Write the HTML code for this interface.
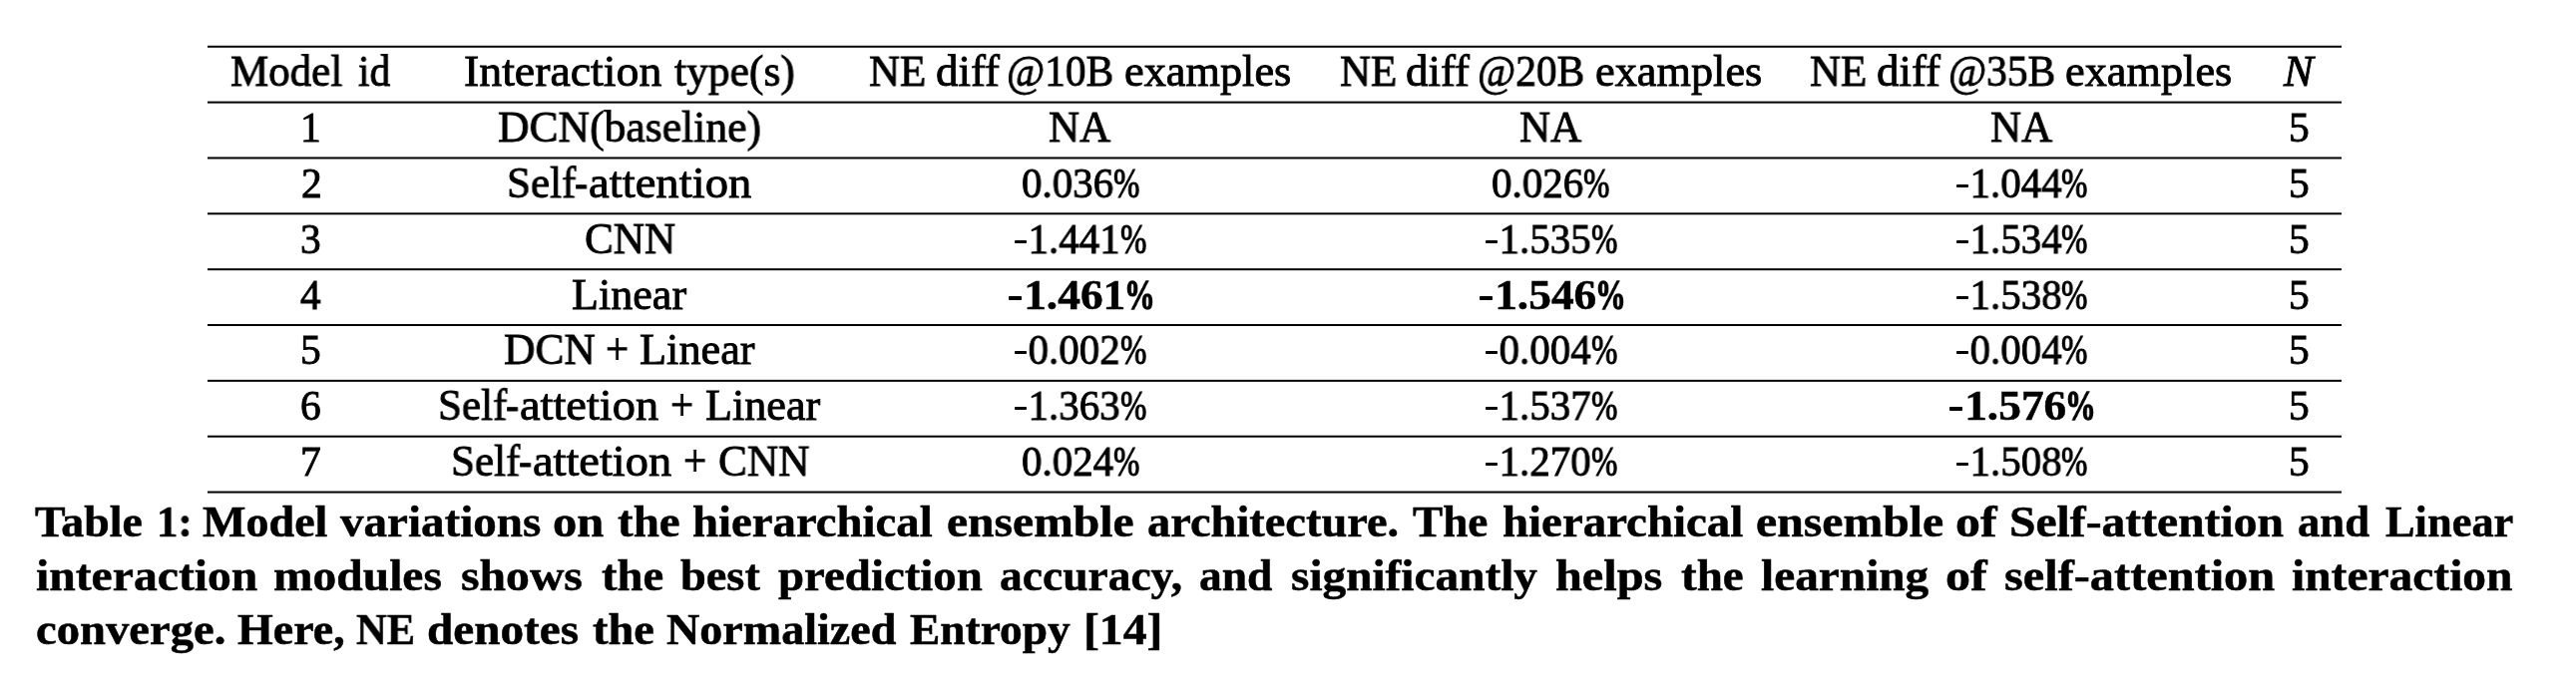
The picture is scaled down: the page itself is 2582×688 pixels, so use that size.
<!DOCTYPE html>
<html><head><meta charset="utf-8"><title>Table 1</title><style>
html,body{margin:0;padding:0;background:#fff;}
body{width:2582px;height:688px;position:relative;overflow:hidden;font-family:"Liberation Serif",serif;color:#000;}
.t{position:absolute;white-space:pre;font-size:44.0px;line-height:60px;height:60px;transform-origin:0 0;will-change:transform;-webkit-text-stroke:0.85px #000;}
.b{font-weight:bold;-webkit-text-stroke:0.5px #000;}
.i{font-style:italic;}
.p{-webkit-text-stroke:1.2px #000;}
.pb{-webkit-text-stroke:1.3px #000;}
.h{color:transparent;-webkit-text-stroke:0 transparent;}
.hy{position:absolute;background:#000;border-radius:0.8px;}
.hl{position:absolute;left:208px;width:2139px;height:1px;background:#000;}
</style></head><body>
<div class="hl" style="top:45px;background:rgb(194,194,194)"></div>
<div class="hl" style="top:46px;background:rgb(0,0,0)"></div>
<div class="hl" style="top:47px;background:rgb(61,61,61)"></div>
<div class="hl" style="top:101px;background:rgb(156,156,156)"></div>
<div class="hl" style="top:102px;background:rgb(0,0,0)"></div>
<div class="hl" style="top:103px;background:rgb(99,99,99)"></div>
<div class="hl" style="top:157px;background:rgb(117,117,117)"></div>
<div class="hl" style="top:158px;background:rgb(0,0,0)"></div>
<div class="hl" style="top:159px;background:rgb(138,138,138)"></div>
<div class="hl" style="top:213px;background:rgb(79,79,79)"></div>
<div class="hl" style="top:214px;background:rgb(0,0,0)"></div>
<div class="hl" style="top:215px;background:rgb(176,176,176)"></div>
<div class="hl" style="top:269px;background:rgb(41,41,41)"></div>
<div class="hl" style="top:270px;background:rgb(0,0,0)"></div>
<div class="hl" style="top:271px;background:rgb(214,214,214)"></div>
<div class="hl" style="top:325px;background:rgb(3,3,3)"></div>
<div class="hl" style="top:326px;background:rgb(0,0,0)"></div>
<div class="hl" style="top:380px;background:rgb(219,219,219)"></div>
<div class="hl" style="top:381px;background:rgb(0,0,0)"></div>
<div class="hl" style="top:382px;background:rgb(36,36,36)"></div>
<div class="hl" style="top:436px;background:rgb(181,181,181)"></div>
<div class="hl" style="top:437px;background:rgb(0,0,0)"></div>
<div class="hl" style="top:438px;background:rgb(74,74,74)"></div>
<div class="hl" style="top:492px;background:rgb(143,143,143)"></div>
<div class="hl" style="top:493px;background:rgb(0,0,0)"></div>
<div class="hl" style="top:494px;background:rgb(112,112,112)"></div>
<div class="t" style="left:231.42px;top:42.00px;transform:scaleX(0.9772)">Model</div>
<div class="t" style="left:358.50px;top:42.00px;transform:scaleX(0.9412)">id</div>
<div class="t" style="left:464.76px;top:42.00px;transform:scaleX(1.0407)">Interaction</div>
<div class="t" style="left:675.70px;top:42.00px;transform:scaleX(0.9884)">type(s)</div>
<div class="t" style="left:871.02px;top:42.00px;transform:scaleX(0.9750)">NE</div>
<div class="t" style="left:937.88px;top:42.00px;transform:scaleX(1.0194)">diff</div>
<div class="t" style="left:1009.32px;top:42.00px;transform:scaleX(0.9418)">@10B</div>
<div class="t" style="left:1127.19px;top:42.00px;transform:scaleX(1.0067)">examples</div>
<div class="t" style="left:1342.62px;top:42.00px;transform:scaleX(0.9750)">NE</div>
<div class="t" style="left:1409.48px;top:42.00px;transform:scaleX(1.0194)">diff</div>
<div class="t" style="left:1480.92px;top:42.00px;transform:scaleX(0.9418)">@20B</div>
<div class="t" style="left:1598.79px;top:42.00px;transform:scaleX(1.0067)">examples</div>
<div class="t" style="left:1814.33px;top:42.00px;transform:scaleX(0.9750)">NE</div>
<div class="t" style="left:1881.18px;top:42.00px;transform:scaleX(1.0194)">diff</div>
<div class="t" style="left:1952.62px;top:42.00px;transform:scaleX(0.9418)">@35B</div>
<div class="t" style="left:2070.49px;top:42.00px;transform:scaleX(1.0067)">examples</div>
<div class="t i" style="left:2288.91px;top:42.00px;transform:scaleX(1.0121)">N</div>
<div class="t" style="left:300.67px;top:98.00px;font-size:41.5px;transform:scaleX(0.9850)">1</div>
<div class="t" style="left:499.11px;top:98.00px;transform:scaleX(0.9909)">DCN(baseline)</div>
<div class="t" style="left:1051.22px;top:98.00px;transform:scaleX(0.9778)">NA</div>
<div class="t" style="left:1522.92px;top:98.00px;transform:scaleX(0.9778)">NA</div>
<div class="t" style="left:1994.62px;top:98.00px;transform:scaleX(0.9778)">NA</div>
<div class="t" style="left:2293.76px;top:98.00px;font-size:41.5px;transform:scaleX(0.9850)">5</div>
<div class="t" style="left:301.65px;top:154.00px;font-size:41.5px;transform:scaleX(0.9850)">2</div>
<div class="t" style="left:507.54px;top:154.00px;transform:scaleX(0.9783)">Self</div>
<div class="t" style="left:575.61px;top:154.00px;transform:scaleX(0.8923)">-</div>
<div class="t" style="left:589.84px;top:154.00px;transform:scaleX(1.0608)">attention</div>
<div class="t" style="left:1023.51px;top:154.00px;font-size:41.5px;transform:scaleX(0.9850)">0.036</div>
<div class="t p" style="left:1115.54px;top:154.00px;font-size:41.5px;transform:scaleX(0.7636)">%</div>
<div class="t" style="left:1495.22px;top:154.00px;font-size:41.5px;transform:scaleX(0.9850)">0.026</div>
<div class="t p" style="left:1587.24px;top:154.00px;font-size:41.5px;transform:scaleX(0.7636)">%</div>
<div class="t" style="left:1960.72px;top:154.00px;font-size:41.5px;transform:scaleX(0.9850)"><span class="h">-</span>1.044</div>
<div class="t p" style="left:2066.34px;top:154.00px;font-size:41.5px;transform:scaleX(0.7636)">%</div>
<div class="t" style="left:2293.76px;top:154.00px;font-size:41.5px;transform:scaleX(0.9850)">5</div>
<div class="t" style="left:301.16px;top:210.00px;font-size:41.5px;transform:scaleX(0.9850)">3</div>
<div class="t" style="left:586.32px;top:210.00px;transform:scaleX(0.9824)">CNN</div>
<div class="t" style="left:1017.32px;top:210.00px;font-size:41.5px;transform:scaleX(0.9850)"><span class="h">-</span>1.441</div>
<div class="t p" style="left:1122.94px;top:210.00px;font-size:41.5px;transform:scaleX(0.7636)">%</div>
<div class="t" style="left:1489.02px;top:210.00px;font-size:41.5px;transform:scaleX(0.9850)"><span class="h">-</span>1.535</div>
<div class="t p" style="left:1594.64px;top:210.00px;font-size:41.5px;transform:scaleX(0.7636)">%</div>
<div class="t" style="left:1960.72px;top:210.00px;font-size:41.5px;transform:scaleX(0.9850)"><span class="h">-</span>1.534</div>
<div class="t p" style="left:2066.34px;top:210.00px;font-size:41.5px;transform:scaleX(0.7636)">%</div>
<div class="t" style="left:2293.76px;top:210.00px;font-size:41.5px;transform:scaleX(0.9850)">5</div>
<div class="t" style="left:301.16px;top:266.00px;font-size:41.5px;transform:scaleX(0.9850)">4</div>
<div class="t" style="left:573.20px;top:266.00px;transform:scaleX(1.0026)">Linear</div>
<div class="t b" style="left:1010.81px;top:266.00px;font-size:41.5px;transform:scaleX(1.0940)"><span class="h">-</span>1.461</div>
<div class="t b pb" style="left:1126.94px;top:266.00px;font-size:41.5px;transform:scaleX(0.7412)">%</div>
<div class="t b" style="left:1482.51px;top:266.00px;font-size:41.5px;transform:scaleX(1.0940)"><span class="h">-</span>1.546</div>
<div class="t b pb" style="left:1598.64px;top:266.00px;font-size:41.5px;transform:scaleX(0.7412)">%</div>
<div class="t" style="left:1960.72px;top:266.00px;font-size:41.5px;transform:scaleX(0.9850)"><span class="h">-</span>1.538</div>
<div class="t p" style="left:2066.34px;top:266.00px;font-size:41.5px;transform:scaleX(0.7636)">%</div>
<div class="t" style="left:2293.76px;top:266.00px;font-size:41.5px;transform:scaleX(0.9850)">5</div>
<div class="t" style="left:300.67px;top:321.00px;font-size:41.5px;transform:scaleX(0.9850)">5</div>
<div class="t" style="left:504.91px;top:321.00px;transform:scaleX(0.9890)">DCN</div>
<div class="t" style="left:607.23px;top:321.00px;transform:scaleX(0.9333)">+</div>
<div class="t" style="left:640.99px;top:321.00px;transform:scaleX(1.0070)">Linear</div>
<div class="t" style="left:1017.32px;top:321.00px;font-size:41.5px;transform:scaleX(0.9850)"><span class="h">-</span>0.002</div>
<div class="t p" style="left:1122.94px;top:321.00px;font-size:41.5px;transform:scaleX(0.7636)">%</div>
<div class="t" style="left:1489.02px;top:321.00px;font-size:41.5px;transform:scaleX(0.9850)"><span class="h">-</span>0.004</div>
<div class="t p" style="left:1594.64px;top:321.00px;font-size:41.5px;transform:scaleX(0.7636)">%</div>
<div class="t" style="left:1960.72px;top:321.00px;font-size:41.5px;transform:scaleX(0.9850)"><span class="h">-</span>0.004</div>
<div class="t p" style="left:2066.34px;top:321.00px;font-size:41.5px;transform:scaleX(0.7636)">%</div>
<div class="t" style="left:2293.76px;top:321.00px;font-size:41.5px;transform:scaleX(0.9850)">5</div>
<div class="t" style="left:301.16px;top:377.00px;font-size:41.5px;transform:scaleX(0.9850)">6</div>
<div class="t" style="left:438.54px;top:377.00px;transform:scaleX(0.9783)">Self</div>
<div class="t" style="left:506.61px;top:377.00px;transform:scaleX(0.8923)">-</div>
<div class="t" style="left:520.85px;top:377.00px;transform:scaleX(1.0542)">attetion</div>
<div class="t" style="left:672.13px;top:377.00px;transform:scaleX(0.9333)">+</div>
<div class="t" style="left:706.80px;top:377.00px;transform:scaleX(1.0044)">Linear</div>
<div class="t" style="left:1017.32px;top:377.00px;font-size:41.5px;transform:scaleX(0.9850)"><span class="h">-</span>1.363</div>
<div class="t p" style="left:1122.94px;top:377.00px;font-size:41.5px;transform:scaleX(0.7636)">%</div>
<div class="t" style="left:1489.02px;top:377.00px;font-size:41.5px;transform:scaleX(0.9850)"><span class="h">-</span>1.537</div>
<div class="t p" style="left:1594.64px;top:377.00px;font-size:41.5px;transform:scaleX(0.7636)">%</div>
<div class="t b" style="left:1954.21px;top:377.00px;font-size:41.5px;transform:scaleX(1.0940)"><span class="h">-</span>1.576</div>
<div class="t b pb" style="left:2070.34px;top:377.00px;font-size:41.5px;transform:scaleX(0.7412)">%</div>
<div class="t" style="left:2293.76px;top:377.00px;font-size:41.5px;transform:scaleX(0.9850)">5</div>
<div class="t" style="left:300.67px;top:433.00px;font-size:41.5px;transform:scaleX(0.9850)">7</div>
<div class="t" style="left:451.64px;top:433.00px;transform:scaleX(0.9783)">Self</div>
<div class="t" style="left:519.71px;top:433.00px;transform:scaleX(0.8923)">-</div>
<div class="t" style="left:533.95px;top:433.00px;transform:scaleX(1.0542)">attetion</div>
<div class="t" style="left:685.42px;top:433.00px;transform:scaleX(0.9381)">+</div>
<div class="t" style="left:719.61px;top:433.00px;transform:scaleX(0.9857)">CNN</div>
<div class="t" style="left:1023.51px;top:433.00px;font-size:41.5px;transform:scaleX(0.9850)">0.024</div>
<div class="t p" style="left:1115.54px;top:433.00px;font-size:41.5px;transform:scaleX(0.7636)">%</div>
<div class="t" style="left:1489.02px;top:433.00px;font-size:41.5px;transform:scaleX(0.9850)"><span class="h">-</span>1.270</div>
<div class="t p" style="left:1594.64px;top:433.00px;font-size:41.5px;transform:scaleX(0.7636)">%</div>
<div class="t" style="left:1960.72px;top:433.00px;font-size:41.5px;transform:scaleX(0.9850)"><span class="h">-</span>1.508</div>
<div class="t p" style="left:2066.34px;top:433.00px;font-size:41.5px;transform:scaleX(0.7636)">%</div>
<div class="t" style="left:2293.76px;top:433.00px;font-size:41.5px;transform:scaleX(0.9850)">5</div>
<div class="t b" style="left:35.40px;top:494.00px;transform:scaleX(1.0417)">Table</div>
<div class="t b" style="left:157.07px;top:494.00px;transform:scaleX(0.9767)">1:</div>
<div class="t b" style="left:202.70px;top:494.00px;transform:scaleX(1.0471)">Model</div>
<div class="t b" style="left:340.50px;top:494.00px;transform:scaleX(1.0690)">variations</div>
<div class="t b" style="left:553.60px;top:494.00px;transform:scaleX(1.1022)">on</div>
<div class="t b" style="left:619.10px;top:494.00px;transform:scaleX(1.0690)">the</div>
<div class="t b" style="left:694.14px;top:494.00px;transform:scaleX(1.0631)">hierarchical</div>
<div class="t b" style="left:948.92px;top:494.00px;transform:scaleX(1.0814)">ensemble</div>
<div class="t b" style="left:1150.34px;top:494.00px;transform:scaleX(1.0551)">architecture.</div>
<div class="t b" style="left:1415.80px;top:494.00px;transform:scaleX(1.0288)">The</div>
<div class="t b" style="left:1505.83px;top:494.00px;transform:scaleX(1.0653)">hierarchical</div>
<div class="t b" style="left:1759.62px;top:494.00px;transform:scaleX(1.0849)">ensemble</div>
<div class="t b" style="left:1959.86px;top:494.00px;transform:scaleX(1.1351)">of</div>
<div class="t b" style="left:2013.84px;top:494.00px;transform:scaleX(1.0817)">Self-attention</div>
<div class="t b" style="left:2303.28px;top:494.00px;transform:scaleX(1.0157)">and</div>
<div class="t b" style="left:2390.80px;top:494.00px;transform:scaleX(1.0094)">Linear</div>
<div class="t b" style="left:35.82px;top:548.00px;transform:scaleX(1.0833)">interaction</div>
<div class="t b" style="left:274.22px;top:548.00px;transform:scaleX(1.0794)">modules</div>
<div class="t b" style="left:461.82px;top:548.00px;transform:scaleX(1.0838)">shows</div>
<div class="t b" style="left:603.00px;top:548.00px;transform:scaleX(1.0603)">the</div>
<div class="t b" style="left:682.30px;top:548.00px;transform:scaleX(1.0539)">best</div>
<div class="t b" style="left:780.20px;top:548.00px;transform:scaleX(1.0651)">prediction</div>
<div class="t b" style="left:1002.27px;top:548.00px;transform:scaleX(1.0343)">accuracy,</div>
<div class="t b" style="left:1202.37px;top:548.00px;transform:scaleX(1.0343)">and</div>
<div class="t b" style="left:1293.53px;top:548.00px;transform:scaleX(1.0747)">significantly</div>
<div class="t b" style="left:1559.10px;top:548.00px;transform:scaleX(1.0979)">helps</div>
<div class="t b" style="left:1684.60px;top:548.00px;transform:scaleX(1.0690)">the</div>
<div class="t b" style="left:1764.70px;top:548.00px;transform:scaleX(1.0756)">learning</div>
<div class="t b" style="left:1949.96px;top:548.00px;transform:scaleX(1.1378)">of</div>
<div class="t b" style="left:2008.50px;top:548.00px;transform:scaleX(1.0984)">self-attention</div>
<div class="t b" style="left:2297.02px;top:548.00px;transform:scaleX(1.0789)">interaction</div>
<div class="t b" style="left:35.84px;top:602.00px;transform:scaleX(1.0599)">converge.</div>
<div class="t b" style="left:238.10px;top:602.00px;transform:scaleX(1.0451)">Here,</div>
<div class="t b" style="left:357.10px;top:602.00px;transform:scaleX(0.9661)">NE</div>
<div class="t b" style="left:427.83px;top:602.00px;transform:scaleX(1.0721)">denotes</div>
<div class="t b" style="left:593.90px;top:602.00px;transform:scaleX(1.0552)">the</div>
<div class="t b" style="left:668.20px;top:602.00px;transform:scaleX(1.0477)">Normalized</div>
<div class="t b" style="left:912.30px;top:602.00px;transform:scaleX(1.0321)">Entropy</div>
<div class="t b" style="left:1085.65px;top:602.00px;transform:scaleX(1.0824)">[14]</div>
<div class="hy" style="left:1960.50px;top:185px;width:12.00px;height:3px"></div>
<div class="hy" style="left:1017.10px;top:241px;width:12.00px;height:3px"></div>
<div class="hy" style="left:1488.80px;top:241px;width:12.00px;height:3px"></div>
<div class="hy" style="left:1960.50px;top:241px;width:12.00px;height:3px"></div>
<div class="hy" style="left:1011.00px;top:297px;width:13.00px;height:4px"></div>
<div class="hy" style="left:1482.70px;top:297px;width:13.00px;height:4px"></div>
<div class="hy" style="left:1960.50px;top:297px;width:12.00px;height:3px"></div>
<div class="hy" style="left:1017.10px;top:352px;width:12.00px;height:3px"></div>
<div class="hy" style="left:1488.80px;top:352px;width:12.00px;height:3px"></div>
<div class="hy" style="left:1960.50px;top:352px;width:12.00px;height:3px"></div>
<div class="hy" style="left:1017.10px;top:408px;width:12.00px;height:3px"></div>
<div class="hy" style="left:1488.80px;top:408px;width:12.00px;height:3px"></div>
<div class="hy" style="left:1954.40px;top:408px;width:13.00px;height:4px"></div>
<div class="hy" style="left:1488.80px;top:464px;width:12.00px;height:3px"></div>
<div class="hy" style="left:1960.50px;top:464px;width:12.00px;height:3px"></div>
</body></html>
